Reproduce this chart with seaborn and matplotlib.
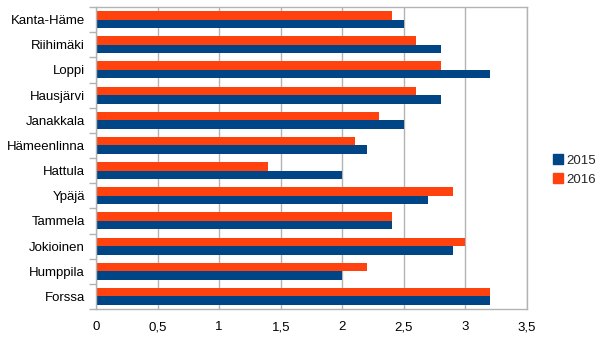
import matplotlib
matplotlib.use("Agg")
import matplotlib.pyplot as plt
import seaborn as sns
import pandas as pd
import numpy as np
from matplotlib.lines import Line2D

categories = ["Kanta-Häme", "Riihimäki", "Loppi", "Hausjärvi", "Janakkala", "Hämeenlinna",
              "Hattula", "Ypäjä", "Tammela", "Jokioinen", "Humppila", "Forssa"]
values_2015 = [2.5, 2.8, 3.2, 2.8, 2.5, 2.2, 2.0, 2.7, 2.4, 2.9, 2.0, 3.2]
values_2016 = [2.4, 2.6, 2.8, 2.6, 2.3, 2.1, 1.4, 2.9, 2.4, 3.0, 2.2, 3.2]
x_ticks = [0, 0.5, 1, 1.5, 2, 2.5, 3, 3.5]
x_ticklabels = ["0", "0,5", "1", "1,5", "2", "2,5", "3", "3,5"]

df = pd.DataFrame({
    "kunta": categories * 2,
    "arvo": values_2015 + values_2016,
    "vuosi": ["2015"] * len(categories) + ["2016"] * len(categories),
})

sns.set_theme(style="white")
plt.rcParams["font.family"] = ["Liberation Sans", "DejaVu Sans"]

colors = {"2015": "#004586", "2016": "#ff420e"}
fig = plt.figure(figsize=(6.05, 3.4), dpi=100)
ax = fig.add_axes([96 / 605, 1 - 309 / 340, (527 - 96) / 605, (309 - 7) / 340])

sns.barplot(data=df, y="kunta", x="arvo", hue="vuosi", hue_order=["2016", "2015"],
            order=categories, palette=colors, orient="h", width=0.68,
            saturation=1, ax=ax, legend=False, linewidth=0)

grid_c = "#b3b3b3"
ax.set_xlim(0, 3.5)
ax.set_ylim(len(categories) - 0.5, -0.5)
ax.set_xticks(x_ticks)
ax.set_xticklabels(x_ticklabels, fontsize=9.5, color="black")
ax.set_yticks(range(len(categories)))
ax.set_yticklabels(categories, fontsize=9.5, color="black")
ax.set_yticks(np.arange(-0.5, len(categories), 1), minor=True)
ax.tick_params(axis="y", which="major", length=0, pad=8)
ax.tick_params(axis="y", which="minor", length=5, color=grid_c, width=1, left=True)
ax.tick_params(axis="x", which="both", length=0, pad=9)
ax.xaxis.grid(True, color=grid_c, linewidth=1)
ax.yaxis.grid(False)
ax.set_axisbelow(True)
for s in ax.spines.values():
    s.set_color(grid_c)
    s.set_linewidth(1)
ax.set_xlabel("")
ax.set_ylabel("")

handles = [Line2D([], [], marker="s", linestyle="none", color=colors[k], markersize=6.5) for k in ["2015", "2016"]]
fig.legend(handles, ["2015", "2016"], loc="center left", bbox_to_anchor=(545 / 605, 1 - 170 / 340),
           frameon=False, fontsize=9.5, handletextpad=0.1, labelspacing=0.5, borderpad=0, handlelength=1)

fig.savefig("out.png", dpi=100)
